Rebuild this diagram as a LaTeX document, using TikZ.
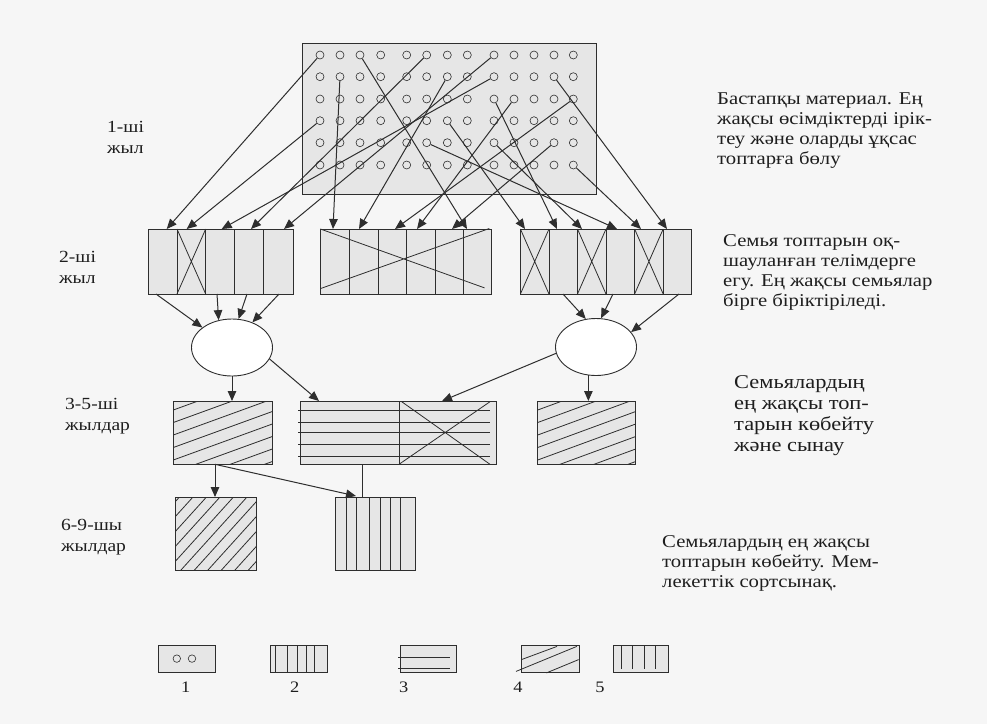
\documentclass[tikz,border=0pt]{standalone}
\usepackage{fontspec}
\setmainfont[FakeStretch=1.15]{Liberation Serif}
\usetikzlibrary{arrows.meta,shapes.geometric}
\definecolor{bgc}{HTML}{F6F6F6}
\definecolor{boxc}{HTML}{E6E6E6}
\definecolor{lc}{HTML}{2E2E2E}
\definecolor{tc}{HTML}{1E1E1E}
\begin{document}
\begin{tikzpicture}[x=1pt,y=-1pt,
  gbox/.style={draw=lc,fill=boxc,line width=0.9pt,inner sep=0pt,outer sep=0pt,anchor=north west},
  circ/.style={circle,draw=lc,line width=0.6pt,minimum size=8pt,inner sep=0pt},
  oval/.style={ellipse,draw=lc,fill=white,line width=0.9pt,inner sep=0pt},
  arr/.style={draw=lc,line width=1pt,-{Triangle[length=10pt,width=8.5pt]}},
  ln/.style={draw=lc,line width=0.8pt},
  desc/.style={font=\fontsize{18}{20}\selectfont,text=tc,align=left,anchor=base west,inner sep=0pt},
  descb/.style={font=\fontsize{19.5}{21}\selectfont,text=tc,align=left,anchor=base west,inner sep=0pt},
  yr/.style={font=\fontsize{17}{20.5}\selectfont,text=tc,align=left,anchor=base west,inner sep=0pt},
  num/.style={font=\fontsize{16}{18}\selectfont,text=tc,inner sep=0pt,anchor=base}
]
\fill[bgc] (0,0) rectangle (987,724);
\useasboundingbox (0,0) rectangle (987,724);

% ---- year 1: source material
\node[gbox,minimum width=294pt,minimum height=151pt] (top) at (302,43) {};
\foreach \x [count=\i] in {320,340,360,380.7,406.7,426.7,447.3,467.3,494,514,534,554,573.3}{
  \foreach \y [count=\j] in {55,76.7,99,120.7,142.7,165}{
    \node[circ] (c\i-\j) at (\x,\y) {};
  }
}

% ---- year 2: family plots
\node[gbox,minimum width=145pt,minimum height=65pt] (b2L) at (148,229) {};
\node[gbox,minimum width=171.4pt,minimum height=65pt] (b2M) at (320.4,229) {};
\node[gbox,minimum width=171.4pt,minimum height=65pt] (b2R) at (520.4,229) {};
\foreach \x in {177,205.7,234.3,263.2}{\draw[ln] (\x,229) -- (\x,294);}
\foreach \x in {349.6,378.2,406.8,435.4,463.2}{\draw[ln] (\x,229) -- (\x,294);}
\foreach \x in {549,577.5,606,634.6,663.2}{\draw[ln] (\x,229) -- (\x,294);}
\draw[ln] (177,229) -- (205.7,294) (205.7,229) -- (177,294);
\draw[ln] (320.4,288.6) -- (489.3,228.5) (320.4,229) -- (484.6,287.9);
\foreach \a/\b in {520.4/549,577.5/606,634.6/663.2}{
  \draw[ln] (\a,229) -- (\b,294) (\b,229) -- (\a,294);
}

% arrows year1 -> year2
\foreach \s/\ex in {1-1/166.7,1-4/186.7,9-2/221.7,6-1/251,9-1/284,2-2/333,7-2/359,13-3/395,10-3/417,12-5/452,3-1/467,7-4/525,9-3/557,9-5/582,6-5/617,13-6/641,12-2/667}{
  \coordinate (t\s) at (\ex,229);
  \draw[arr] (c\s) -- (t\s);
}

% ---- unions (ellipses)
\node[oval,minimum width=81pt,minimum height=57pt] (elL) at (232,347.5) {};
\node[oval,minimum width=81pt,minimum height=57pt] (elR) at (596,347) {};
\coordinate (s1) at (156,294);
\coordinate (s2) at (217,294);
\coordinate (s3) at (247,294);
\coordinate (s4) at (279,294);
\draw[arr] (s1) -- (elL.146);
\draw[arr] (s2) -- (elL.116);
\draw[arr] (s3) -- (elL.77);
\draw[arr] (s4) -- (elL.51);
\coordinate (r1) at (563,294);
\coordinate (r2) at (613,294);
\coordinate (r3) at (679,294);
\draw[arr] (r1) -- (elR.110);
\draw[arr] (r2) -- (elR.80);
\draw[arr] (r3) -- (elR.23);

% ---- years 3-5
\node[gbox,minimum width=99pt,minimum height=63.3pt] (b3L) at (173.3,401) {};
\node[gbox,minimum width=196pt,minimum height=63.3pt] (b3M) at (300,401) {};
\node[gbox,minimum width=98pt,minimum height=63.3pt] (b3R) at (537.7,401) {};
\begin{scope}
  \clip (173.3,401) rectangle (272.3,464.3);
  \foreach \k in {0,...,8}{\draw[ln] (173.3,{410+12.5*\k}) -- ++(99,-36);}
\end{scope}
\begin{scope}
  \clip (537.7,401) rectangle (635.7,464.3);
  \foreach \k in {0,...,8}{\draw[ln] (537.7,{410+12.5*\k}) -- ++(98,-36);}
\end{scope}
\draw[ln] (399,401) -- (399,464.3);
\foreach \y in {410,422.7,432.7,444.3,456.7}{\draw[ln] (298,\y) -- (490,\y);}
\draw[ln] (401.7,401.7) -- (490,464.3) (399,464.3) -- (490,401.7);

\draw[arr] (elL.south) -- (elL.south |- b3L.north);
\coordinate (m1) at (319,401);
\draw[arr] (elL.-17) -- (m1);
\coordinate (m2) at (442,401);
\draw[arr] (elR.189) -- (m2);
\draw[arr] (elR.255) -- (elR.255 |- b3R.north);

% ---- years 6-9
\node[gbox,minimum width=81pt,minimum height=73pt] (b4L) at (175,497) {};
\node[gbox,minimum width=80pt,minimum height=73pt] (b4R) at (335,497) {};
\begin{scope}
  \clip (175,497) rectangle (256,570);
  \foreach \k in {0,...,12}{\draw[ln] ({100+13.5*\k},570) -- ++(66,-73);}
\end{scope}
\foreach \x in {346,356.7,369.3,380,390.7,400.7}{\draw[ln] (\x,497) -- (\x,570);}

\coordinate (p) at (215,464.3);
\draw[arr] (p) -- (p |- b4L.north);
\coordinate (q) at (356,496);
\draw[arr] (p) -- (q);
\coordinate (v1) at (362,464.3);
\draw[ln] (v1) -- (v1 |- b4R.north);

% ---- legend
\node[gbox,minimum width=57pt,minimum height=27.5pt] (g1) at (158,645.4) {};
\node[circ,minimum size=7.5pt] (g1a) at (176.8,658.6) {};
\node[circ,minimum size=7.5pt] (g1b) at (192,658.6) {};
\node[gbox,minimum width=57.5pt,minimum height=27.5pt] (g2) at (270.4,645.4) {};
\foreach \x in {275.7,287.5,297.1,306,314.3}{\draw[ln] (\x,645.4) -- (\x,672.9);}
\node[gbox,minimum width=56.4pt,minimum height=27.5pt] (g3) at (400,645.4) {};
\draw[ln] (398,657) -- (450,657) (398,668.6) -- (450,668.6);
\node[gbox,minimum width=58.2pt,minimum height=27.5pt] (g4) at (521.4,645.4) {};
\draw[ln] (516,671.4) -- (576.8,646.4) (521.4,659.6) -- (557,646.4) (546.4,672.9) -- (578.6,659.6);
\node[gbox,minimum width=55.4pt,minimum height=27.5pt] (g5) at (613.2,645.4) {};
\foreach \x in {621.4,632,644.6,655.4}{\draw[ln] (\x,645.4) -- (\x,669);}
\node[num] (n1) at (185.7,692) {1};
\node[num] (n2) at (294.6,692) {2};
\node[num] (n3) at (403.6,692) {3};
\node[num] (n4) at (518,692) {4};
\node[num] (n5) at (600,692) {5};

% ---- year labels (anchor = baseline of last line)
\node[yr] (y1) at (107,153) {1-ші\\жыл};
\node[yr] (y2) at (59,283) {2-ші\\жыл};
\node[yr] (y3) at (65,430) {3-5-ші\\жылдар};
\node[yr] (y4) at (61,551) {6-9-шы\\жылдар};

% ---- descriptions (anchor = baseline of last line)
\node[desc] (d1) at (717,164) {Бастапқы материал. Ең\\жақсы өсімдіктерді ірік-\\теу және оларды ұқсас\\топтарға бөлу};
\node[desc] (d2) at (723,306) {Семья топтарын оқ-\\шауланған телімдерге\\егу. Ең жақсы семьялар\\бірге біріктіріледі.};
\node[descb] (d3) at (734,451) {Семьялардың\\ең жақсы топ-\\тарын көбейту\\және сынау};
\node[desc] (d4) at (662,587) {Семьялардың ең жақсы\\топтарын көбейту. Мем-\\лекеттік сортсынақ.};
\end{tikzpicture}
\end{document}
